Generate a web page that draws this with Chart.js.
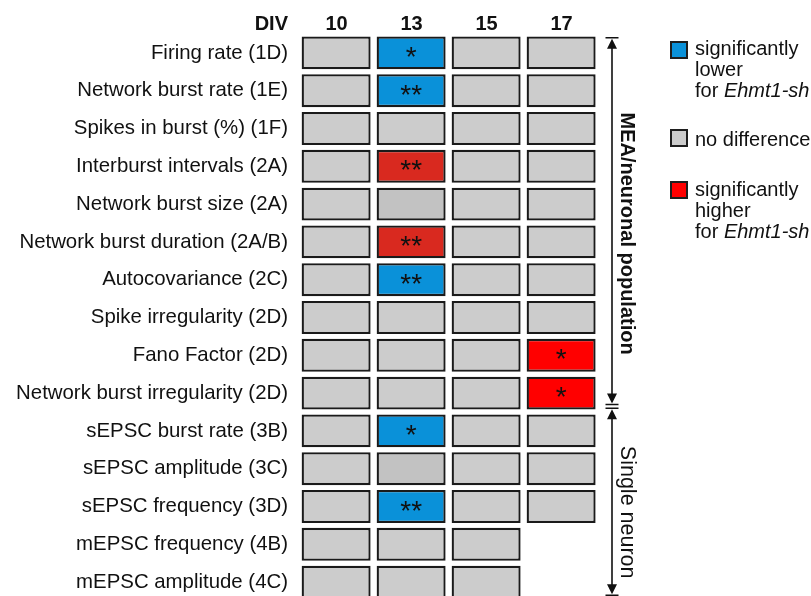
<!DOCTYPE html>
<html>
<head>
<meta charset="utf-8">
<script src="https://cdn.jsdelivr.net/npm/chart.js@4.4.0/dist/chart.umd.min.js"></script>
<style>
html,body{margin:0;padding:0;background:#fff;overflow:hidden;width:811px;height:596px}
#wrap{position:absolute;left:0;top:0;width:811px;height:602px}
</style>
</head>
<body>
<div id="wrap"><canvas id="grid_chart"></canvas></div>
<script>
'use strict'

const measures = [
    'Firing rate (1D)',
    'Network burst rate (1E)',
    'Spikes in burst (%) (1F)',
    'Interburst intervals (2A)',
    'Network burst size (2A)',
    'Network burst duration (2A/B)',
    'Autocovariance (2C)',
    'Spike irregularity (2D)',
    'Fano Factor (2D)',
    'Network burst irregularity (2D)',
    'sEPSC burst rate (3B)',
    'sEPSC amplitude (3C)',
    'sEPSC frequency (3D)',
    'mEPSC frequency (4B)',
    'mEPSC amplitude (4C)'
];
const divs = ['10', '13', '15', '17'];

// L = lower, N = no difference, n = no difference (darker shade),
// H = higher, h = higher (darker shade), null = not measured
const div10 = ['N','N','N','N','N','N','N','N','N','N','N','N','N','N','N'];
const div13 = ['L','L','N','h','n','h','L','N','N','N','L','n','L','N','N'];
const div15 = ['N','N','N','N','N','N','N','N','N','N','N','N','N','N','N'];
const div17 = ['N','N','N','N','N','N','N','N','H','H','N','N','N',null,null];

const stars10 = ['','','','','','','','','','','','','','',''];
const stars13 = ['*','**','','**','','**','**','','','','*','','**','',''];
const stars15 = ['','','','','','','','','','','','','','',''];
const stars17 = ['','','','','','','','','*','*','','','','',''];

const status = [div10, div13, div15, div17];
const stars = [stars10, stars13, stars15, stars17];

const fill = {L:'#0a91d9', N:'#cccccc', n:'#c2c2c2', H:'#ff0000', h:'#d9291f'};
const FONT = '"Liberation Sans", Arial, sans-serif';

window.onload = () => {
    const ctx = document.getElementById('grid_chart').getContext('2d');

    const datasets = status.map((col, c) => ({
        label: 'DIV ' + divs[c],
        data: col.map(s => s ? [c + 0.035, c + 0.955] : null),
        backgroundColor: col.map(s => s ? fill[s] : 'transparent'),
        borderColor: '#1a1a1a',
        borderWidth: 2.3,
        borderSkipped: false,
        grouped: false,
        barPercentage: 0.87,
        categoryPercentage: 1
    }));

    const extras = {
        id: 'extras',
        afterDatasetsDraw(chart) {
            const g = chart.ctx;
            const y = chart.scales.y;
            const x = chart.scales.x;
            g.save();
            g.fillStyle = '#111';
            g.strokeStyle = '#111';

            // DIV header
            g.font = 'bold 20px ' + FONT;
            g.textAlign = 'right';
            g.textBaseline = 'alphabetic';
            g.fillText('DIV', chart.chartArea.left - 11, 30);

            // asterisks
            g.font = '28px ' + FONT;
            g.textAlign = 'center';
            chart.data.datasets.forEach((ds, c) => {
                chart.getDatasetMeta(c).data.forEach((bar, i) => {
                    const s = stars[c][i];
                    if (!s) return;
                    g.fillText(s, (bar.x + bar.base) / 2, bar.y + 13);
                });
            });

            // brackets
            const p = y.getPixelForValue(1) - y.getPixelForValue(0);
            const bx = x.right + 13;
            const bracket = (y0, y1) => {
                g.lineWidth = 1.6;
                g.beginPath();
                g.moveTo(bx, y0 + 4); g.lineTo(bx, y1 - 4);
                g.moveTo(bx - 6.5, y0); g.lineTo(bx + 6.5, y0);
                g.moveTo(bx - 6.5, y1); g.lineTo(bx + 6.5, y1);
                g.stroke();
                g.beginPath();
                g.moveTo(bx, y0 + 1); g.lineTo(bx - 5, y0 + 11); g.lineTo(bx + 5, y0 + 11);
                g.closePath();
                g.moveTo(bx, y1 - 1); g.lineTo(bx - 5, y1 - 11); g.lineTo(bx + 5, y1 - 11);
                g.closePath();
                g.fill();
            };
            bracket(y.getPixelForValue(0) - 0.4 * p, y.getPixelForValue(9) + 0.3 * p);
            bracket(y.getPixelForValue(10) - 0.6 * p, y.getPixelForValue(14) + 0.35 * p);

            const vtext = (txt, font, cy) => {
                g.save();
                g.translate(bx + 15, cy);
                g.rotate(Math.PI / 2);
                g.font = font;
                g.textAlign = 'center';
                g.textBaseline = 'middle';
                g.fillText(txt, 0, 0);
                g.restore();
            };
            vtext('MEA/neuronal population', 'bold 20px ' + FONT, y.getPixelForValue(4.78));
            vtext('Single neuron', '21.5px ' + FONT, y.getPixelForValue(12.15));

            // legend
            const lx = 670, tx = 695;
            const box = (top, col) => {
                g.fillStyle = '#1e1e1e';
                g.fillRect(lx, top, 18, 18);
                g.fillStyle = col;
                g.fillRect(lx + 2, top + 2, 14, 14);
                g.fillStyle = '#111';
            };
            const forLine = (base) => {
                g.font = '20px ' + FONT;
                g.fillText('for ', tx, base);
                const w = g.measureText('for ').width;
                g.font = 'italic 20px ' + FONT;
                g.fillText('Ehmt1-sh', tx + w, base);
                g.font = '20px ' + FONT;
            };
            g.textAlign = 'left';
            g.textBaseline = 'alphabetic';
            g.font = '20px ' + FONT;
            box(41, fill.L);
            g.fillText('significantly', tx, 55);
            g.fillText('lower', tx, 76);
            forLine(97);
            box(129, fill.N);
            g.fillText('no difference', tx, 146);
            box(181, fill.H);
            g.fillText('significantly', tx, 196);
            g.fillText('higher', tx, 217);
            forLine(238);
            g.restore();
        }
    };

    new Chart(ctx, {
        type: 'bar',
        data: {labels: measures, datasets: datasets},
        plugins: [extras],
        options: {
            indexAxis: 'y',
            responsive: true,
            maintainAspectRatio: false,
            animation: false,
            events: [],
            layout: {padding: {left: 0, right: 212, top: 0, bottom: 1}},
            plugins: {legend: {display: false}, tooltip: {enabled: false}},
            scales: {
                x: {
                    type: 'linear',
                    position: 'top',
                    min: 0,
                    max: 4,
                    afterBuildTicks: (s) => { s.ticks = divs.map((d, i) => ({value: i + 0.5})); },
                    afterFit: (s) => { s.height = 34; s.paddingLeft = 0; s.paddingRight = 0; },
                    grid: {display: false, drawTicks: false},
                    border: {display: false},
                    ticks: {
                        callback: (v) => divs[Math.floor(v)],
                        font: {family: FONT, size: 20, weight: 'bold'},
                        color: '#111',
                        padding: -2,
                        maxRotation: 0,
                        autoSkip: false
                    }
                },
                y: {
                    type: 'category',
                    afterFit: (s) => { s.width = 299; s.paddingTop = 0; s.paddingBottom = 0; },
                    grid: {display: false, drawTicks: false},
                    border: {display: false},
                    ticks: {
                        font: {family: FONT, size: 20.4},
                        color: '#111',
                        padding: 11,
                        autoSkip: false
                    }
                }
            }
        }
    });
};
</script>
</body>
</html>
